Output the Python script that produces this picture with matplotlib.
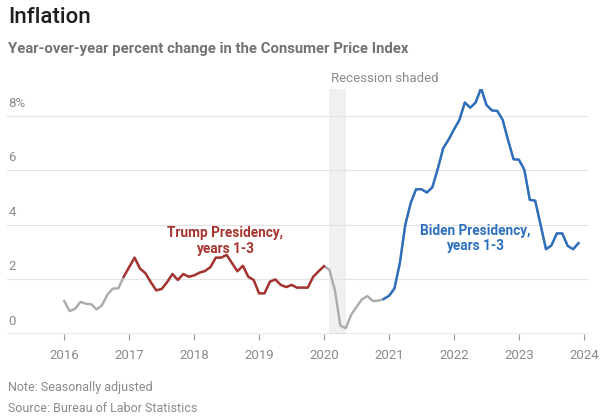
import numpy as np
import matplotlib
matplotlib.use("Agg")
import matplotlib.pyplot as plt

plt.rcParams['font.family'] = ['Roboto', 'DejaVu Sans']

# CPI, year-over-year % change, monthly Jan 2016 .. Dec 2023
cpi_2016 = [1.21, 0.84, 0.92, 1.18, 1.11, 1.09, 0.90, 1.06, 1.45, 1.67, 1.67, 2.10]
cpi_2017 = [2.45, 2.80, 2.40, 2.23, 1.90, 1.60, 1.65, 1.90, 2.20, 1.98, 2.20, 2.10]
cpi_2018 = [2.15, 2.25, 2.31, 2.45, 2.80, 2.80, 2.90, 2.60, 2.30, 2.50, 2.10, 1.98]
cpi_2019 = [1.49, 1.49, 1.92, 2.00, 1.80, 1.72, 1.80, 1.70, 1.70, 1.70, 2.10, 2.30]
cpi_2020 = [2.49, 2.35, 1.61, 0.31, 0.21, 0.70, 1.00, 1.27, 1.39, 1.21, 1.22, 1.28]
cpi_2021 = [1.40, 1.67, 2.60, 4.00, 4.80, 5.31, 5.31, 5.19, 5.38, 6.05, 6.81, 7.13]
cpi_2022 = [7.50, 7.85, 8.49, 8.30, 8.49, 9.02, 8.40, 8.20, 8.18, 7.85, 7.10, 6.41]
cpi_2023 = [6.39, 6.02, 4.92, 4.89, 4.00, 3.11, 3.25, 3.69, 3.69, 3.23, 3.11, 3.33]

cpi = np.array(cpi_2016 + cpi_2017 + cpi_2018 + cpi_2019
               + cpi_2020 + cpi_2021 + cpi_2022 + cpi_2023)
dates = 2016 + np.arange(len(cpi)) / 12

# index ranges (inclusive) for each term
trump = (11, 48)
biden = (59, 95)
recession = (2020 + 1/12, 2020 + 4/12)

years = list(range(2016, 2025))
yticks = [0, 2, 4, 6, 8]
ylabels = ['0', '2', '4', '6', '8%']

GRAY = '#ababab'
RED = '#a8322d'
BLUE = '#2d6fbf'
TXT = '#8a8a8a'

fig = plt.figure(figsize=(6, 4.18), dpi=100)
ax = fig.add_axes([0.0117, 0.201, 0.968, 0.587])

ax.axvspan(*recession, color='#f0f0f0', lw=0, zorder=0)

xmin, xmax = 2015.12, 2024.06
for v in yticks[1:]:
    ax.plot([xmin, xmax], [v, v], color='#e4e4e4', lw=0.9, zorder=1)
ax.plot([xmin, xmax], [0, 0], color='#9a9a9a', lw=1.0, zorder=2)

ax.plot(dates, cpi, color=GRAY, lw=1.7, zorder=3)
s, e = trump
ax.plot(dates[s:e+1], cpi[s:e+1], color=RED, lw=1.7, zorder=4)
s, e = biden
ax.plot(dates[s:e+1], cpi[s:e+1], color=BLUE, lw=1.7, zorder=4)

for v, lab in zip(yticks, ylabels):
    ax.text(xmin + 0.02, v + 0.22, lab, color=TXT, fontsize=9.5,
            ha='left', va='bottom')

ax.set_xlim(xmin, xmax)
ax.set_ylim(0, 9.0)
ax.set_xticks(years)
ax.set_xticklabels([str(y) for y in years])
ax.set_yticks([])
ax.tick_params(axis='x', length=4, width=0.8, color='#9a9a9a',
               labelcolor=TXT, labelsize=9.5, pad=7)
for sp in ax.spines.values():
    sp.set_visible(False)

ax.text(2018.47, 3.42, 'Trump Presidency,\nyears 1-3', color=RED,
        fontsize=9.8, fontweight='bold', ha='center', va='center',
        linespacing=1.15)
ax.text(2022.33, 3.5, 'Biden Presidency,\nyears 1-3', color=BLUE,
        fontsize=9.8, fontweight='bold', ha='center', va='center',
        linespacing=1.15)
ax.text(2020.93, 9.15, 'Recession shaded', color=TXT, fontsize=9.5,
        ha='center', va='bottom')

fig.text(0.013, 0.957, 'Inflation', fontsize=16, fontweight='medium',
         color='#1e1e1e', ha='left', va='center')
fig.text(0.013, 0.883, 'Year-over-year percent change in the Consumer Price Index',
         fontsize=10.7, fontweight='bold', color='#737373', ha='left', va='center')
fig.text(0.013, 0.072, 'Note: Seasonally adjusted', fontsize=9,
         color=TXT, ha='left', va='center')
fig.text(0.013, 0.022, 'Source: Bureau of Labor Statistics', fontsize=9,
         color=TXT, ha='left', va='center')

fig.savefig('out.png', dpi=100)
